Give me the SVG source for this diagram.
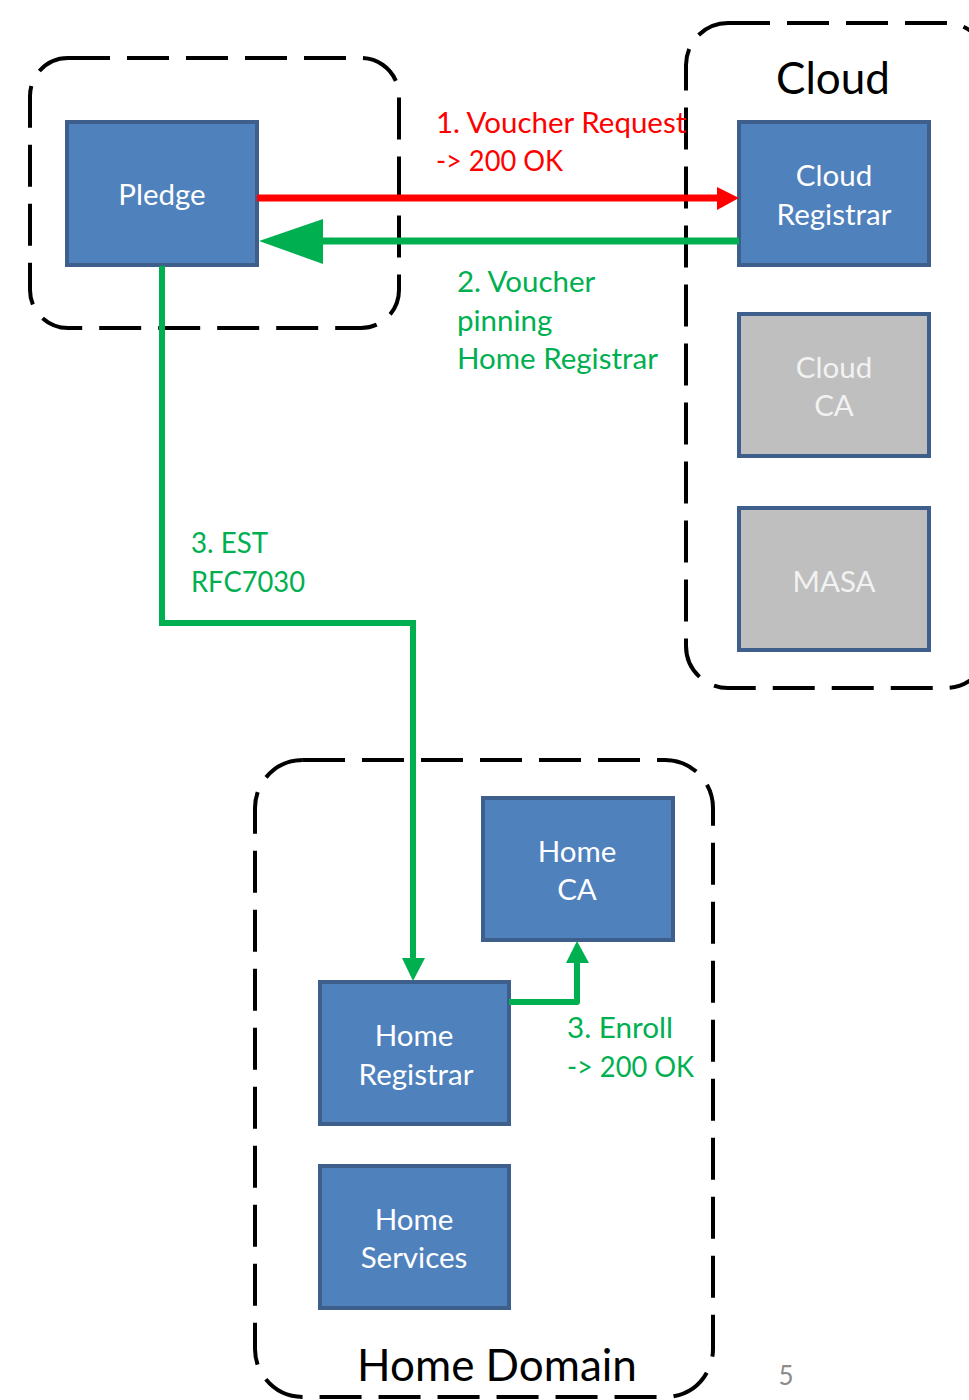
<svg xmlns="http://www.w3.org/2000/svg" width="969" height="1400" viewBox="0 0 969 1400">
<defs>
<style>
.zone{fill:none;stroke:#000;stroke-width:4;stroke-dasharray:42 17}
.node{stroke:#3e5f8b;stroke-width:4}
.blue{fill:#4f81bd}
.gray{fill:#bfbfbf}
.nt{font-family:Lato,"Liberation Sans",sans-serif;font-size:29.5px;fill:#fff;text-anchor:middle}
.gt{fill:#f2f2f2}
.lbl{font-family:Lato,"Liberation Sans",sans-serif;font-size:29.5px}
.big{font-family:Lato,"Liberation Sans",sans-serif;font-size:44px;fill:#000;text-anchor:middle}
</style>
</defs>
<rect width="969" height="1400" fill="#fff"/>
<g id="zones">
<rect id="pledge-zone" class="zone" x="30" y="58" width="369" height="270" rx="38"/>
<rect id="cloud-zone" class="zone" x="686" y="23" width="302" height="665" rx="42"/>
<rect id="home-zone" class="zone" x="255" y="760" width="458" height="637" rx="48"/>
</g>
<g id="pledge"><rect class="node blue" x="67" y="122" width="190" height="143"/><text class="nt" x="162" y="205">Pledge</text></g>
<g id="cloud-registrar"><rect class="node blue" x="739" y="122" width="190" height="143"/><text class="nt" x="834" y="186">Cloud</text><text class="nt" x="834" y="225">Registrar</text></g>
<g id="cloud-ca"><rect class="node gray" x="739" y="314" width="190" height="142"/><text class="nt gt" x="834" y="378">Cloud</text><text class="nt gt" x="834" y="416">CA</text></g>
<g id="masa"><rect class="node gray" x="739" y="508" width="190" height="142"/><text class="nt gt" x="834" y="592">MASA</text></g>
<g id="home-ca"><rect class="node blue" x="483" y="798" width="190" height="142"/><text class="nt" x="577" y="862">Home</text><text class="nt" x="577" y="900">CA</text></g>
<g id="home-registrar"><rect class="node blue" x="320" y="982" width="189" height="142"/><text class="nt" x="414" y="1046">Home</text><text class="nt" x="416" y="1085">Registrar</text></g>
<g id="home-services"><rect class="node blue" x="320" y="1166" width="189" height="142"/><text class="nt" x="414" y="1230">Home</text><text class="nt" x="414" y="1268">Services</text></g>
<g id="connectors">
<line x1="257" y1="198" x2="719" y2="198" stroke="#ff0000" stroke-width="7"/>
<polygon points="739,198 717,187 717,210" fill="#ff0000"/>
<line x1="739" y1="241" x2="320" y2="241" stroke="#00b050" stroke-width="7"/>
<polygon points="259,241 323,219 323,264" fill="#00b050"/>
<polyline points="162,266 162,623 413,623 413,960" fill="none" stroke="#00b050" stroke-width="6"/>
<polygon points="413,981 402,958 425,958" fill="#00b050"/>
<polyline points="509,1002 577,1002 577,960" fill="none" stroke="#00b050" stroke-width="6" stroke-linejoin="round"/>
<polygon points="577,941 566,963 589,963" fill="#00b050"/>
</g>
<g id="labels">
<text class="lbl" fill="#ff0000" x="436" y="133">1. Voucher Request</text>
<text class="lbl" fill="#ff0000" x="436" y="171" textLength="127" lengthAdjust="spacingAndGlyphs">-&gt; 200 OK</text>
<text class="lbl" fill="#00b050" x="457" y="292">2. Voucher</text>
<text class="lbl" fill="#00b050" x="457" y="331">pinning</text>
<text class="lbl" fill="#00b050" x="457" y="369">Home Registrar</text>
<text class="lbl" fill="#00b050" x="191" y="553" textLength="77" lengthAdjust="spacingAndGlyphs">3. EST</text>
<text class="lbl" fill="#00b050" x="191" y="592" textLength="114" lengthAdjust="spacingAndGlyphs">RFC7030</text>
<text class="lbl" fill="#00b050" x="567" y="1038" textLength="106" lengthAdjust="spacingAndGlyphs">3. Enroll</text>
<text class="lbl" fill="#00b050" x="567" y="1077" textLength="127" lengthAdjust="spacingAndGlyphs">-&gt; 200 OK</text>
<text class="big" x="833" y="94">Cloud</text>
<text class="big" x="497" y="1381">Home Domain</text>
<text x="786" y="1385" font-family="Lato,'Liberation Sans',sans-serif" font-size="26" fill="#8c8c8c" text-anchor="middle">5</text>
</g>
</svg>
